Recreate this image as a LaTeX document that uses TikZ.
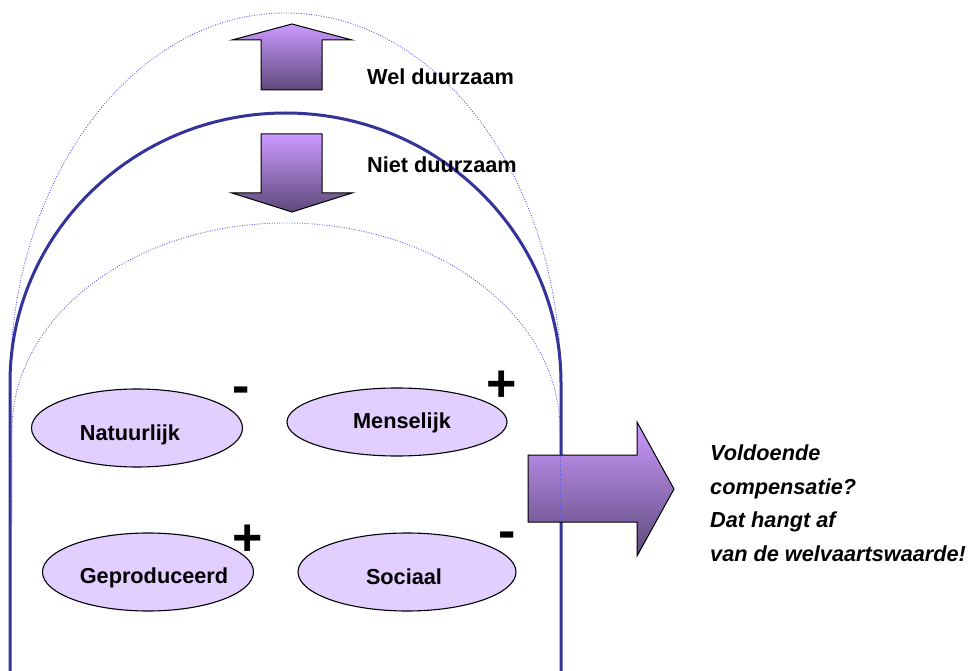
\documentclass[tikz,border=0pt]{standalone}
\usepackage{fontspec}
\setmainfont{Liberation Sans}
\usetikzlibrary{shapes.geometric}
\definecolor{archblue}{RGB}{51,51,153}
\definecolor{dotblue}{RGB}{90,90,235}
\definecolor{lav}{RGB}{226,206,255}
\definecolor{arrtop}{RGB}{204,153,255}
\definecolor{arrbot}{RGB}{94,74,122}
\tikzset{
  arch/.style={draw=archblue, line width=3pt},
  dotarch/.style={draw=dotblue, line width=0.9pt, dash pattern=on 0.9pt off 1.6pt},
  fatarrow/.style={draw=black, line width=1pt, top color=arrtop, bottom color=arrbot, line join=miter},
  capital/.style={ellipse, draw=black, line width=1.1pt, fill=lav, inner sep=0pt},
  lbl/.style={font=\fontsize{21.7}{26}\selectfont\bfseries, inner sep=0pt},
  sign/.style={font=\fontsize{52}{60}\selectfont\bfseries, inner sep=0pt, anchor=base},
}
\begin{document}
\begin{tikzpicture}[x=1pt,y=-1pt]
\useasboundingbox (0,0) rectangle (972,671);
% dotted arches
\draw[dotarch] (10,430) -- (10,383) arc[start angle=180, end angle=360, x radius=275.5, y radius=370] -- (561,430);
\draw[dotarch] (12,522) -- (12,430) arc[start angle=180, end angle=360, x radius=274, y radius=207] -- (560,522);
% solid arch
\draw[arch] (10,671) -- (10,383) arc[start angle=180, end angle=360, x radius=275.5, y radius=270] -- (561,671);
% arrows
\draw[fatarrow] (292,24) -- (352,40) -- (322,40) -- (322,90) -- (261,90) -- (261,40) -- (232,40) -- cycle;
\draw[fatarrow] (261,134) -- (322,134) -- (322,193) -- (352,193) -- (292,212) -- (232,193) -- (261,193) -- cycle;
\draw[fatarrow] (528,455) -- (637,455) -- (637,422) -- (674,489) -- (637,556) -- (637,522) -- (528,522) -- cycle;
\draw[dotarch] (560,456) -- (560,521);
% labels
\node[lbl, anchor=base west] (wel) at (367,85) {Wel duurzaam};
\node[lbl, anchor=base west] (niet) at (367,173) {Niet duurzaam};
% capitals
\node[capital, minimum width=211pt, minimum height=78pt] (nat) at (137,428) {};
\node[lbl, anchor=base] (natt) at (130,440) {Natuurlijk};
\node[capital, minimum width=220pt, minimum height=68pt] (men) at (397,422) {};
\node[lbl, anchor=base] (ment) at (402,428) {Menselijk};
\node[capital, minimum width=211pt, minimum height=78pt] (gep) at (148,572) {};
\node[lbl, anchor=base] (gept) at (154,583) {Geproduceerd};
\node[capital, minimum width=218pt, minimum height=78pt] (soc) at (407,572) {};
\node[lbl, anchor=base] (soct) at (404,584) {Sociaal};
% signs
\node[sign] (s1) at (241,403.5) {-};
\node[sign] (s2) at (502,401.5) {+};
\node[sign] (s3) at (248,555.5) {+};
\node[sign] (s4) at (507,548.5) {-};
% conclusion
\node[font=\fontsize{21.7}{33.5}\selectfont\bfseries\itshape, align=left, anchor=north west, inner sep=0pt] (concl) at (710,445)
  {Voldoende\\compensatie?\\Dat hangt af\\van de welvaartswaarde!};
\end{tikzpicture}
\end{document}
